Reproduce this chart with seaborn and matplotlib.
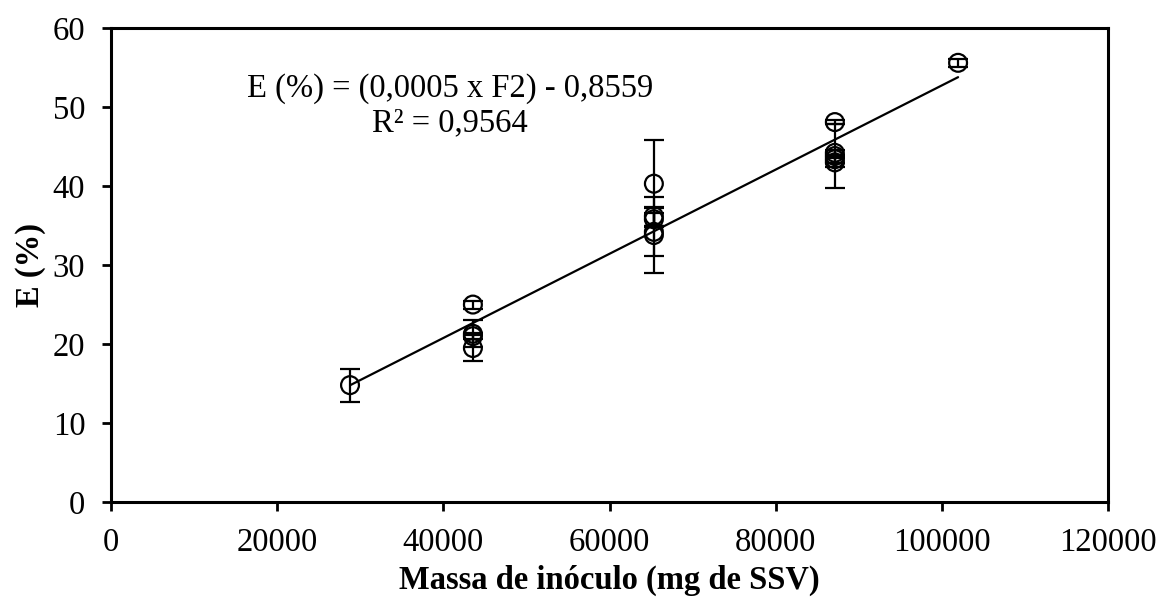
import numpy as np
import pandas as pd
import matplotlib
matplotlib.use("Agg")
import matplotlib.pyplot as plt
import seaborn as sns

# Data
massa = [28770, 43560, 43560, 43560, 43560,
         65340, 65340, 65340, 65340, 65340,
         87120, 87120, 87120, 87120, 87120,
         101950]
eficiencia = [14.8, 25.0, 21.3, 21.0, 19.5,
              40.3, 36.2, 35.8, 34.2, 33.8,
              48.1, 44.2, 43.8, 43.4, 43.0,
              55.6]
desvio = [2.1, 0.5, 1.7, 0.4, 1.6,
          5.5, 1.2, 0.8, 3.0, 4.8,
          0.3, 0.4, 4.0, 0.5, 0.6,
          0.5]
x_ticks = [0, 20000, 40000, 60000, 80000, 100000, 120000]
y_ticks = [0, 10, 20, 30, 40, 50, 60]
equacao = "E (%) = (0,0005 x F2) - 0,8559"
r2_text = "R² = 0,9564"

df = pd.DataFrame({"massa": massa, "E": eficiencia, "sd": desvio})

sns.set_style("white")
plt.rcParams["font.family"] = ["Liberation Serif", "DejaVu Serif"]
plt.rcParams["text.color"] = "black"
plt.rcParams["axes.labelcolor"] = "black"

FS = 23.5

fig = plt.figure(figsize=(11.57, 5.97), dpi=100)
ax = fig.add_axes([0.0959, 0.159, 0.8618, 0.794])

ax.errorbar(df["massa"], df["E"], yerr=df["sd"], fmt="none", ecolor="black",
            elinewidth=1.6, capsize=7, capthick=1.6, zorder=2)
sns.scatterplot(data=df, x="massa", y="E", ax=ax, marker="o", s=165,
                facecolors="none", edgecolor="black", linewidth=1.6, zorder=3)
sns.regplot(data=df, x="massa", y="E", ax=ax, scatter=False, ci=None,
            truncate=True, line_kws={"color": "black", "linewidth": 1.6, "zorder": 1})

ax.set_xlim(0, 120000)
ax.set_ylim(0, 60)
ax.set_xticks(x_ticks)
ax.set_yticks(y_ticks)
ax.set_xticklabels([str(v) for v in x_ticks])
ax.set_yticklabels([str(v) for v in y_ticks])
ax.tick_params(axis="both", direction="out", length=6.5, width=2, labelsize=FS,
               pad=12, colors="black")
ax.tick_params(axis="x", bottom=True)
ax.tick_params(axis="y", left=True)
for sp in ax.spines.values():
    sp.set_visible(True)
    sp.set_color("black")
    sp.set_linewidth(2.2)

ax.set_xlabel("Massa de inóculo (mg de SSV)", fontsize=FS, fontweight="bold",
              labelpad=5, color="black")
ax.set_ylabel("E (%)", fontsize=FS, fontweight="bold", labelpad=5, color="black")

ax.text(0.34, 0.873, equacao, transform=ax.transAxes, ha="center", va="center",
        fontsize=FS, color="black")
ax.text(0.34, 0.80, r2_text, transform=ax.transAxes, ha="center", va="center",
        fontsize=FS, color="black")

fig.savefig("out.png", dpi=100, facecolor="white")
